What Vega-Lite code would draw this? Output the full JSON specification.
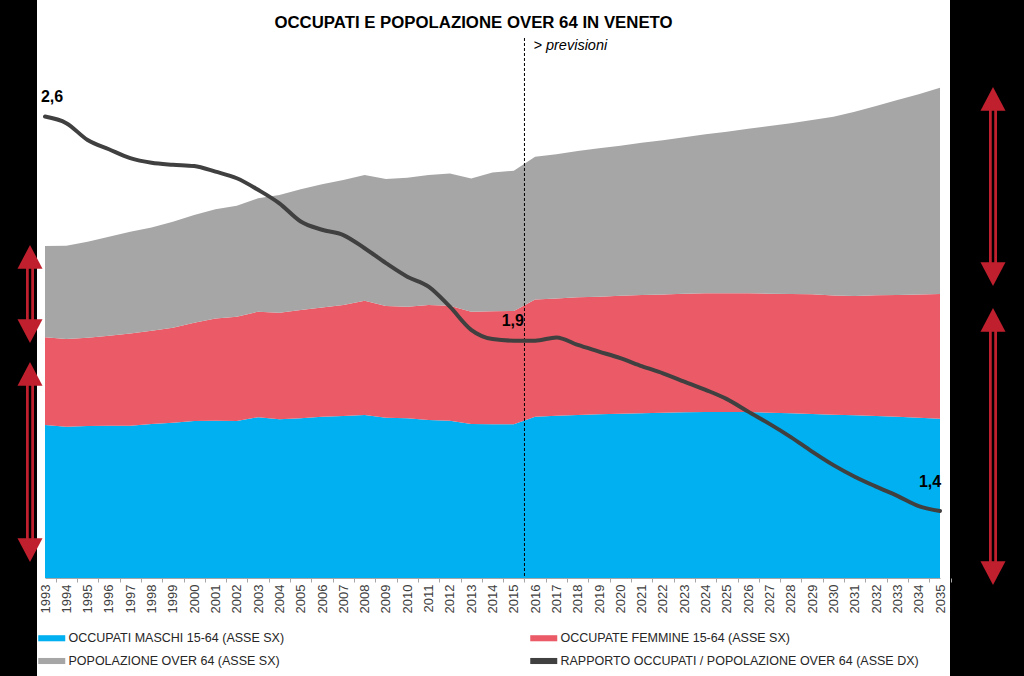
{
  "$schema": "https://vega.github.io/schema/vega-lite/v6.json",
  "width": 913,
  "height": 676,
  "autosize": {"type": "none"},
  "padding": {"left": 37, "top": 0, "right": 74, "bottom": 0},
  "background": "black",
  "config": {
    "view": {"fill": "white", "stroke": null},
    "font": "Liberation Sans",
    "locale": {"number": {"decimal": ",", "thousands": ".", "grouping": [3], "currency": ["€", ""]}}
  },
  "title": {
    "text": "OCCUPATI E POPOLAZIONE OVER 64 IN VENETO",
    "font": "Liberation Sans",
    "fontSize": 16.8,
    "fontWeight": "bold",
    "color": "black",
    "anchor": "middle",
    "frame": "group",
    "offset": -45,
    "baseline": "alphabetic",
    "dx": -20
  },
  "datasets": {
    "frecce": [
      {"anno": 1993, "da": 2664, "a": 1880},
      {"anno": 1993, "da": 1728, "a": 128},
      {"anno": 2035, "da": 3928, "a": 2336},
      {"anno": 2035, "da": 2160, "a": -56}
    ],
    "soglia": [
      {"anno": 2015.5, "cima": 4320, "fondo": -16, "testo": "> previsioni"}
    ]
  },
  "data": {
    "values": [
      {"anno": 1993, "maschi": 1224, "femmine": 702, "anziani": 730, "rapporto": 2.598},
      {"anno": 1994, "maschi": 1210, "femmine": 702, "anziani": 746, "rapporto": 2.578},
      {"anno": 1995, "maschi": 1216, "femmine": 706, "anziani": 768, "rapporto": 2.527},
      {"anno": 1996, "maschi": 1218, "femmine": 720, "anziani": 792, "rapporto": 2.499},
      {"anno": 1997, "maschi": 1218, "femmine": 739, "anziani": 813, "rapporto": 2.472},
      {"anno": 1998, "maschi": 1232, "femmine": 746, "anziani": 827, "rapporto": 2.458},
      {"anno": 1999, "maschi": 1242, "femmine": 760, "anziani": 848, "rapporto": 2.452},
      {"anno": 2000, "maschi": 1256, "femmine": 786, "anziani": 862, "rapporto": 2.448},
      {"anno": 2001, "maschi": 1258, "femmine": 819, "anziani": 874, "rapporto": 2.431},
      {"anno": 2002, "maschi": 1256, "femmine": 834, "anziani": 888, "rapporto": 2.411},
      {"anno": 2003, "maschi": 1286, "femmine": 845, "anziani": 907, "rapporto": 2.376},
      {"anno": 2004, "maschi": 1270, "femmine": 853, "anziani": 942, "rapporto": 2.335},
      {"anno": 2005, "maschi": 1278, "femmine": 866, "anziani": 966, "rapporto": 2.280},
      {"anno": 2006, "maschi": 1290, "femmine": 875, "anziani": 986, "rapporto": 2.255},
      {"anno": 2007, "maschi": 1296, "femmine": 888, "anziani": 1000, "rapporto": 2.239},
      {"anno": 2008, "maschi": 1304, "femmine": 914, "anziani": 1006, "rapporto": 2.199},
      {"anno": 2009, "maschi": 1282, "femmine": 894, "anziani": 1016, "rapporto": 2.154},
      {"anno": 2010, "maschi": 1278, "femmine": 893, "anziani": 1032, "rapporto": 2.113},
      {"anno": 2011, "maschi": 1264, "femmine": 920, "anziani": 1040, "rapporto": 2.083},
      {"anno": 2012, "maschi": 1258, "femmine": 920, "anziani": 1059, "rapporto": 2.022},
      {"anno": 2013, "maschi": 1232, "femmine": 898, "anziani": 1067, "rapporto": 1.952},
      {"anno": 2014, "maschi": 1230, "femmine": 904, "anziani": 1110, "rapporto": 1.924},
      {"anno": 2015, "maschi": 1230, "femmine": 906, "anziani": 1122, "rapporto": 1.919},
      {"anno": 2016, "maschi": 1290, "femmine": 939, "anziani": 1141, "rapporto": 1.919},
      {"anno": 2017, "maschi": 1298, "femmine": 939, "anziani": 1154, "rapporto": 1.929},
      {"anno": 2018, "maschi": 1304, "femmine": 942, "anziani": 1170, "rapporto": 1.906},
      {"anno": 2019, "maschi": 1310, "femmine": 941, "anziani": 1187, "rapporto": 1.886},
      {"anno": 2020, "maschi": 1314, "femmine": 944, "anziani": 1200, "rapporto": 1.866},
      {"anno": 2021, "maschi": 1318, "femmine": 946, "anziani": 1218, "rapporto": 1.842},
      {"anno": 2022, "maschi": 1322, "femmine": 947, "anziani": 1234, "rapporto": 1.820},
      {"anno": 2023, "maschi": 1326, "femmine": 949, "anziani": 1251, "rapporto": 1.795},
      {"anno": 2024, "maschi": 1328, "femmine": 950, "anziani": 1272, "rapporto": 1.770},
      {"anno": 2025, "maschi": 1328, "femmine": 950, "anziani": 1293, "rapporto": 1.742},
      {"anno": 2026, "maschi": 1328, "femmine": 950, "anziani": 1317, "rapporto": 1.704},
      {"anno": 2027, "maschi": 1322, "femmine": 952, "anziani": 1342, "rapporto": 1.667},
      {"anno": 2028, "maschi": 1318, "femmine": 954, "anziani": 1366, "rapporto": 1.627},
      {"anno": 2029, "maschi": 1312, "femmine": 958, "anziani": 1394, "rapporto": 1.583},
      {"anno": 2030, "maschi": 1306, "femmine": 955, "anziani": 1429, "rapporto": 1.542},
      {"anno": 2031, "maschi": 1302, "femmine": 954, "anziani": 1474, "rapporto": 1.507},
      {"anno": 2032, "maschi": 1296, "femmine": 966, "anziani": 1514, "rapporto": 1.477},
      {"anno": 2033, "maschi": 1290, "femmine": 974, "anziani": 1560, "rapporto": 1.449},
      {"anno": 2034, "maschi": 1282, "femmine": 987, "anziani": 1602, "rapporto": 1.418},
      {"anno": 2035, "maschi": 1274, "femmine": 998, "anziani": 1650, "rapporto": 1.403}
    ]
  },
  "encoding": {
    "x": {
      "field": "anno",
      "type": "quantitative",
      "scale": {"domain": [1993, 2035], "range": [8, 903], "nice": false, "zero": false},
      "axis": {
        "title": null,
        "values": [1993,1994,1995,1996,1997,1998,1999,2000,2001,2002,2003,2004,2005,2006,2007,2008,2009,2010,2011,2012,2013,2014,2015,2016,2017,2018,2019,2020,2021,2022,2023,2024,2025,2026,2027,2028,2029,2030,2031,2032,2033,2034,2035],
        "format": "d",
        "labelAngle": -90,
        "labelAlign": "right",
        "labelBaseline": "middle",
        "labelFont": "Liberation Sans",
        "labelFontSize": 13,
        "labelColor": "#404040",
        "labelPadding": 2,
        "labelOverlap": false,
        "labelFlush": false,
        "labelBound": false,
        "tickSize": 4,
        "tickColor": "#A6A6A6",
        "domainColor": "#A6A6A6",
        "tickOffset": 10.65,
        "labelOffset": -10.65,
        "offset": -98,
        "grid": false,
        "zindex": 1
      }
    }
  },
  "layer": [
    {
      "layer": [
        {
          "transform": [{"fold": ["maschi", "femmine", "anziani"], "as": ["serie", "valore"]}],
          "mark": {"type": "area", "opacity": 1},
          "encoding": {
            "y": {"field": "valore", "type": "quantitative", "stack": "zero", "scale": {"domain": [0, 4320], "range": [578, 38], "nice": false, "zero": false}, "axis": null},
            "color": {
              "field": "serie",
              "type": "nominal",
              "scale": {"domain": ["maschi", "femmine", "anziani", "rapporto"], "range": ["#00B0F0", "#EA5B67", "#A6A6A6", "#404040"]},
              "legend": {
                "orient": "none",
                "legendX": 1,
                "legendY": 631,
                "direction": "horizontal",
                "columns": 2,
                "title": null,
                "padding": 0,
                "symbolType": "M-1,-0.45H3V0.45H-1Z",
                "symbolSize": 182.25,
                "symbolStrokeWidth": 0,
                "symbolOpacity": 1,
                "labelOffset": 16.5,
                "labelFont": "Liberation Sans",
                "labelFontSize": 12.5,
                "labelColor": "#262626",
                "labelLimit": 0,
                "rowPadding": 9,
                "columnPadding": 245,
                "labelExpr": "datum.label == 'maschi' ? 'OCCUPATI MASCHI 15-64 (ASSE SX)' : datum.label == 'femmine' ? 'OCCUPATE FEMMINE 15-64 (ASSE SX)' : datum.label == 'anziani' ? 'POPOLAZIONE OVER 64 (ASSE SX)' : 'RAPPORTO OCCUPATI / POPOLAZIONE OVER 64 (ASSE DX)'",
                "encode": {"symbols": {"update": {"fill": {"scale": "color", "field": "value"}, "stroke": {"value": "transparent"}, "opacity": {"value": 1}}}}
              }
            },
            "order": {"field": "serie", "sort": "descending"}
          }
        },
        {
          "data": {"name": "soglia"},
          "mark": {"type": "rule", "color": "black", "strokeWidth": 1, "strokeDash": [3, 2]},
          "encoding": {
            "y": {"field": "cima", "type": "quantitative", "scale": {"domain": [0, 4320], "range": [578, 38], "nice": false, "zero": false}, "axis": null},
            "y2": {"field": "fondo"}
          }
        },
        {
          "data": {"name": "soglia"},
          "mark": {"type": "text", "align": "left", "baseline": "middle", "dx": 9, "dy": 8, "font": "Liberation Sans", "fontSize": 14.5, "fontStyle": "italic", "color": "black"},
          "encoding": {
            "y": {"field": "cima", "type": "quantitative", "scale": {"domain": [0, 4320], "range": [578, 38], "nice": false, "zero": false}, "axis": null},
            "text": {"field": "testo", "type": "nominal"}
          }
        },
        {
          "data": {"name": "frecce"},
          "transform": [{"filter": "datum.anno == 1993"}],
          "layer": [
            {
              "mark": {"type": "rule", "color": "#C0202E", "strokeWidth": 8, "xOffset": -15, "yOffset": 20, "y2Offset": -20},
              "encoding": {
                "y": {"field": "da", "type": "quantitative", "scale": {"domain": [0, 4320], "range": [578, 38], "nice": false, "zero": false}, "axis": null},
                "y2": {"field": "a"}
              }
            },
            {
              "mark": {"type": "rule", "color": "black", "strokeWidth": 2.5, "xOffset": -15, "yOffset": 20, "y2Offset": -20},
              "encoding": {
                "y": {"field": "da", "type": "quantitative", "scale": {"domain": [0, 4320], "range": [578, 38], "nice": false, "zero": false}, "axis": null},
                "y2": {"field": "a"}
              }
            },
            {
              "mark": {"type": "point", "shape": "M0,0L1,1.9L-1,1.9Z", "filled": true, "size": 625, "color": "#C0202E", "opacity": 1, "strokeWidth": 0, "xOffset": -15},
              "encoding": {
                "y": {"field": "da", "type": "quantitative", "scale": {"domain": [0, 4320], "range": [578, 38], "nice": false, "zero": false}, "axis": null}
              }
            },
            {
              "mark": {"type": "point", "shape": "M0,0L1,-1.9L-1,-1.9Z", "filled": true, "size": 625, "color": "#C0202E", "opacity": 1, "strokeWidth": 0, "xOffset": -15},
              "encoding": {
                "y": {"field": "a", "type": "quantitative", "scale": {"domain": [0, 4320], "range": [578, 38], "nice": false, "zero": false}, "axis": null}
              }
            }
          ]
        },
        {
          "data": {"name": "frecce"},
          "transform": [{"filter": "datum.anno == 2035"}],
          "layer": [
            {
              "mark": {"type": "rule", "color": "#C0202E", "strokeWidth": 8, "xOffset": 53, "yOffset": 20, "y2Offset": -20},
              "encoding": {
                "y": {"field": "da", "type": "quantitative", "scale": {"domain": [0, 4320], "range": [578, 38], "nice": false, "zero": false}, "axis": null},
                "y2": {"field": "a"}
              }
            },
            {
              "mark": {"type": "rule", "color": "black", "strokeWidth": 2.5, "xOffset": 53, "yOffset": 20, "y2Offset": -20},
              "encoding": {
                "y": {"field": "da", "type": "quantitative", "scale": {"domain": [0, 4320], "range": [578, 38], "nice": false, "zero": false}, "axis": null},
                "y2": {"field": "a"}
              }
            },
            {
              "mark": {"type": "point", "shape": "M0,0L1,1.9L-1,1.9Z", "filled": true, "size": 625, "color": "#C0202E", "opacity": 1, "strokeWidth": 0, "xOffset": 53},
              "encoding": {
                "y": {"field": "da", "type": "quantitative", "scale": {"domain": [0, 4320], "range": [578, 38], "nice": false, "zero": false}, "axis": null}
              }
            },
            {
              "mark": {"type": "point", "shape": "M0,0L1,-1.9L-1,-1.9Z", "filled": true, "size": 625, "color": "#C0202E", "opacity": 1, "strokeWidth": 0, "xOffset": 53},
              "encoding": {
                "y": {"field": "a", "type": "quantitative", "scale": {"domain": [0, 4320], "range": [578, 38], "nice": false, "zero": false}, "axis": null}
              }
            }
          ]
        }
      ]
    },
    {
      "layer": [
        {
          "mark": {"type": "line", "interpolate": "monotone", "strokeWidth": 4, "strokeCap": "round", "strokeJoin": "round"},
          "encoding": {
            "y": {"field": "rapporto", "type": "quantitative", "scale": {"domain": [1.2, 2.836], "range": [578, 38], "nice": false, "zero": false}, "axis": null},
            "color": {"datum": "rapporto", "type": "nominal"}
          }
        },
        {
          "transform": [{"filter": "datum.anno == 1993"}],
          "mark": {"type": "text", "align": "center", "baseline": "middle", "dx": 7, "dy": -20, "font": "Liberation Sans", "fontSize": 16, "fontWeight": "bold", "color": "black"},
          "encoding": {
            "y": {"field": "rapporto", "type": "quantitative", "scale": {"domain": [1.2, 2.836], "range": [578, 38], "nice": false, "zero": false}, "axis": null},
            "text": {"field": "rapporto", "type": "quantitative", "format": ".1f"}
          }
        },
        {
          "transform": [{"filter": "datum.anno == 2015"}],
          "mark": {"type": "text", "align": "center", "baseline": "middle", "dx": -1, "dy": -20, "font": "Liberation Sans", "fontSize": 16, "fontWeight": "bold", "color": "black"},
          "encoding": {
            "y": {"field": "rapporto", "type": "quantitative", "scale": {"domain": [1.2, 2.836], "range": [578, 38], "nice": false, "zero": false}, "axis": null},
            "text": {"field": "rapporto", "type": "quantitative", "format": ".1f"}
          }
        },
        {
          "transform": [{"filter": "datum.anno == 2035"}],
          "mark": {"type": "text", "align": "center", "baseline": "middle", "dx": -10, "dy": -29, "font": "Liberation Sans", "fontSize": 16, "fontWeight": "bold", "color": "black"},
          "encoding": {
            "y": {"field": "rapporto", "type": "quantitative", "scale": {"domain": [1.2, 2.836], "range": [578, 38], "nice": false, "zero": false}, "axis": null},
            "text": {"field": "rapporto", "type": "quantitative", "format": ".1f"}
          }
        }
      ]
    }
  ],
  "resolve": {"scale": {"y": "independent"}}
}
